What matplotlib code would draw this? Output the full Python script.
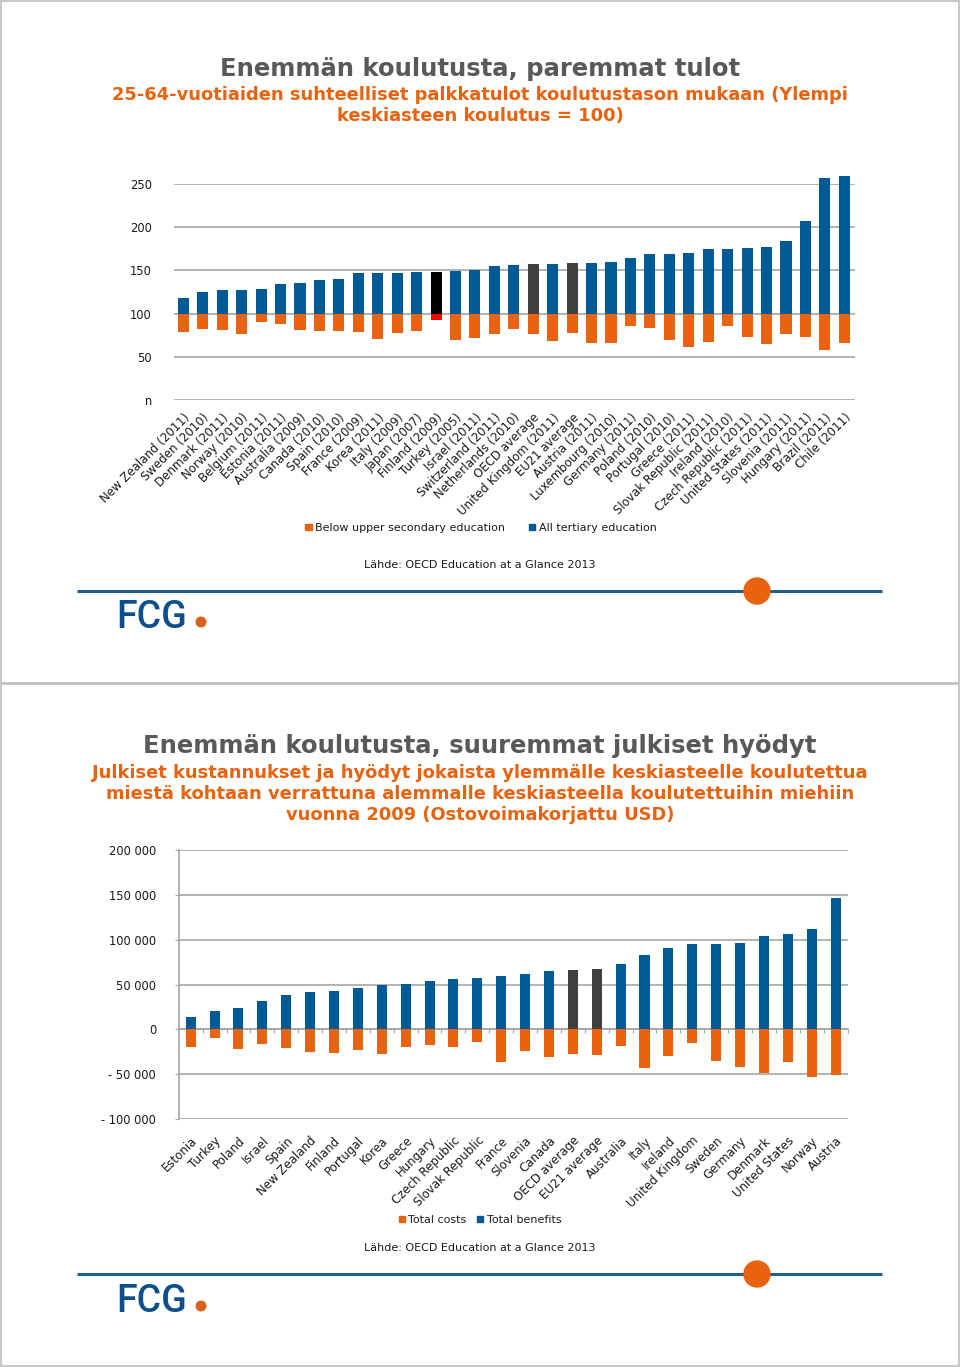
import matplotlib
matplotlib.use('Agg')
import matplotlib.pyplot as plt
import numpy as np
from matplotlib.patches import Patch, Circle, Rectangle

# ---------------- data: chart 1 ----------------
c1_labels = ["New Zealand (2011)", "Sweden (2010)", "Denmark (2011)", "Norway (2010)",
             "Belgium (2011)", "Estonia (2011)", "Australia (2009)", "Canada (2010)",
             "Spain (2010)", "France (2009)", "Korea (2011)", "Italy (2009)",
             "Japan (2007)", "Finland (2009)", "Turkey (2005)", "Israel (2011)",
             "Switzerland (2011)", "Netherlands (2010)", "OECD average",
             "United Kingdom (2011)", "EU21 average", "Austria (2011)",
             "Luxembourg (2010)", "Germany (2011)", "Poland (2010)", "Portugal (2010)",
             "Greece (2011)", "Slovak Republic (2011)", "Ireland (2010)",
             "Czech Republic (2011)", "United States (2011)", "Slovenia (2011)",
             "Hungary (2011)", "Brazil (2011)", "Chile (2011)"]
c1_tertiary = [118.5, 125.5, 127.8, 127.8, 128.6, 134.7, 135.5, 139.0, 140.2, 146.7,
               147.1, 147.5, 148.3, 148.6, 149.0, 151.0, 155.2, 156.4, 157.1, 157.1,
               158.3, 158.3, 159.5, 164.1, 169.1, 169.5, 170.3, 174.9, 175.3, 176.1,
               177.2, 183.8, 207.3, 256.8, 259.8]
c1_below = [79.2, 81.9, 81.5, 76.4, 90.7, 87.6, 81.1, 79.9, 80.3, 78.8,
            70.7, 77.6, 79.5, 92.7, 69.1, 71.8, 76.4, 82.6, 76.4, 68.7,
            77.6, 66.4, 66.4, 86.1, 83.0, 69.5, 61.8, 67.2, 85.7, 73.4,
            64.5, 76.8, 72.6, 57.9, 66.4]
c1_yticks = [0, 50, 100, 150, 200, 250]
c1_yticklabels = ["n", "50", "100", "150", "200", "250"]
c1_series = ["Below upper secondary education", "All tertiary education"]

# ---------------- data: chart 2 ----------------
c2_labels = ["Estonia", "Turkey", "Poland", "Israel", "Spain", "New Zealand", "Finland",
             "Portugal", "Korea", "Greece", "Hungary", "Czech Republic",
             "Slovak Republic", "France", "Slovenia", "Canada", "OECD average",
             "EU21 average", "Australia", "Italy", "Ireland", "United Kingdom",
             "Sweden", "Germany", "Denmark", "United States", "Norway", "Austria"]
c2_benefits = [13800, 20400, 23800, 31200, 38700, 41600, 42400, 45700, 49100, 50600,
               53900, 56500, 57200, 59500, 61300, 65400, 65800, 67700, 72500, 82500,
               91100, 94800, 95200, 96300, 104100, 106300, 111500, 146500]
c2_costs = [-20100, -9300, -21900, -16700, -20800, -25300, -26000, -23000, -27100,
            -20100, -17100, -19700, -14100, -36400, -24500, -31200, -27900, -28300,
            -19000, -43100, -30100, -14900, -35300, -42000, -49100, -36400, -52800,
            -50600]
c2_yticks = [-100000, -50000, 0, 50000, 100000, 150000, 200000]
c2_yticklabels = ["- 100 000", "- 50 000", "0", "50 000", "100 000", "150 000", "200 000"]
c2_series = ["Total costs", "Total benefits"]

# ---------------- styles ----------------
BLUE = '#005a96'
ORANGE = '#e8620f'
DARK = '#404040'
GRID = '#a6a6a6'
TITLE_GRAY = '#595959'
LINE_BLUE = '#1f5f8b'
LOGO_BLUE = '#0d4f8b'
TXT = '#1a1a1a'

plt.rcParams['font.family'] = ['DejaVu Sans']

W, H = 960, 1367
fig = plt.figure(figsize=(W / 100, H / 100), dpi=100)


def fx(x):
    return x / W


def fy(y):
    return 1 - y / H


def add_axes_px(left, top, right, bottom):
    return fig.add_axes([fx(left), fy(bottom), (right - left) / W, (bottom - top) / H])


# slide frames
bg = fig.add_axes([0, 0, 1, 1])
bg.set_xlim(0, W)
bg.set_ylim(H, 0)
bg.axis('off')
bg.add_patch(Rectangle((0.5, 0.5), W - 1.5, 682, fill=False, ec='#bdbdbd', lw=1.2))
bg.add_patch(Rectangle((0.5, 684), W - 1.5, 682, fill=False, ec='#bdbdbd', lw=1.2))


def footer(y_line, y_logo):
    bg.plot([77, 882], [y_line, y_line], color=LINE_BLUE, lw=2.2, solid_capstyle='butt')
    bg.add_patch(Circle((757, y_line), 13, color=ORANGE, zorder=3))
    bg.text(116, y_logo, "FCG", fontsize=27, color=LOGO_BLUE, family='Roboto',
            weight='medium', ha='left', va='center')
    bg.add_patch(Circle((201, y_logo + 5), 4.8, color='#d9611e', zorder=3))


# ---------------- slide 1 ----------------
fig.text(fx(480), fy(69), "Enemmän koulutusta, paremmat tulot", ha='center', va='center',
         fontsize=17.5, weight='bold', color=TITLE_GRAY)
fig.text(fx(480), fy(105.5), "25-64-vuotiaiden suhteelliset palkkatulot koulutustason mukaan (Ylempi\nkeskiasteen koulutus = 100)",
         ha='center', va='center', fontsize=12.9, weight='bold', color=ORANGE,
         linespacing=1.15)

ax1 = add_axes_px(174, 184, 855, 400)
x1 = np.arange(len(c1_labels))
top_cols, bot_cols = [], []
for lab in c1_labels:
    if lab.startswith("Finland"):
        top_cols.append('#000000'); bot_cols.append('#ff0000')
    elif 'average' in lab:
        top_cols.append(DARK); bot_cols.append(ORANGE)
    else:
        top_cols.append(BLUE); bot_cols.append(ORANGE)
ax1.bar(x1, np.array(c1_tertiary) - 100, bottom=100, width=0.57, color=top_cols,
        zorder=2, clip_on=False)
ax1.bar(x1, np.array(c1_below) - 100, bottom=100, width=0.57, color=bot_cols,
        zorder=2, clip_on=False)
ax1.set_xlim(-0.48, len(c1_labels) - 0.45)
ax1.set_ylim(0, 250)
ax1.set_yticks(c1_yticks)
ax1.set_yticklabels(c1_yticklabels, fontsize=8.3, color=TXT)
ax1.yaxis.grid(True, color=GRID, lw=1.2)
ax1.set_axisbelow(True)
for s in ax1.spines.values():
    s.set_visible(False)
ax1.tick_params(axis='y', length=0, pad=16)
ax1.set_xticks(x1)
ax1.set_xticklabels(c1_labels, rotation=45, ha='right', va='top', rotation_mode='anchor',
                    fontsize=8.5, color=TXT)
ax1.tick_params(axis='x', length=0, pad=8)

fig.legend([Patch(color=ORANGE), Patch(color=BLUE)], c1_series, loc='center',
           bbox_to_anchor=(fx(481), fy(528)), ncol=2, frameon=False, fontsize=8,
           handlelength=0.55, handleheight=0.55, handletextpad=0.3, columnspacing=2.2,
           labelcolor=TXT)
fig.text(fx(480), fy(565), "Lähde: OECD Education at a Glance 2013", ha='center',
         va='center', fontsize=8, color=TXT)
footer(591, 617)

# ---------------- slide 2 ----------------
fig.text(fx(480), fy(746), "Enemmän koulutusta, suuremmat julkiset hyödyt", ha='center',
         va='center', fontsize=17.5, weight='bold', color=TITLE_GRAY)
fig.text(fx(480), fy(794), "Julkiset kustannukset ja hyödyt jokaista ylemmälle keskiasteelle koulutettua\nmiestä kohtaan verrattuna alemmalle keskiasteella koulutettuihin miehiin\nvuonna 2009 (Ostovoimakorjattu USD)",
         ha='center', va='center', fontsize=12.9, weight='bold', color=ORANGE,
         linespacing=1.22)

ax2 = add_axes_px(179, 850, 848, 1119)
x2 = np.arange(len(c2_labels))
top2 = [DARK if 'average' in l else BLUE for l in c2_labels]
ax2.bar(x2, c2_benefits, width=0.42, color=top2, zorder=2)
ax2.bar(x2, c2_costs, width=0.42, color=ORANGE, zorder=2)
ax2.set_xlim(-0.49, len(c2_labels) - 0.48)
ax2.set_ylim(-100000, 200000)
ax2.set_yticks(c2_yticks)
ax2.set_yticklabels(c2_yticklabels, fontsize=8.3, color=TXT)
ax2.yaxis.grid(True, color=GRID, lw=1.2)
ax2.set_axisbelow(True)
for k in ['top', 'right', 'bottom']:
    ax2.spines[k].set_visible(False)
ax2.spines['left'].set_color(GRID)
ax2.spines['left'].set_linewidth(1.2)
ax2.tick_params(axis='y', length=3, color=GRID, pad=13.5)
ax2.set_xticks(x2)
ax2.set_xticklabels(c2_labels, rotation=45, ha='right', va='top', rotation_mode='anchor',
                    fontsize=8.5, color=TXT)
ax2.tick_params(axis='x', length=0, pad=11)
sec = ax2.secondary_xaxis(1 / 3)
sec.set_xticks(np.arange(len(c2_labels) + 1) - 0.5)
sec.set_xticklabels([])
sec.tick_params(axis='x', length=3, color=GRID, direction='out')
sec.spines['bottom'].set_color(GRID)
sec.spines['bottom'].set_linewidth(1.2)

fig.legend([Patch(color=ORANGE), Patch(color=BLUE)], c2_series, loc='center',
           bbox_to_anchor=(fx(480), fy(1220)), ncol=2, frameon=False, fontsize=8,
           handlelength=0.55, handleheight=0.55, handletextpad=0.3, columnspacing=1.0,
           labelcolor=TXT)
fig.text(fx(480), fy(1248), "Lähde: OECD Education at a Glance 2013", ha='center',
         va='center', fontsize=8, color=TXT)
footer(1274, 1301)

fig.savefig('out.png', dpi=100)
